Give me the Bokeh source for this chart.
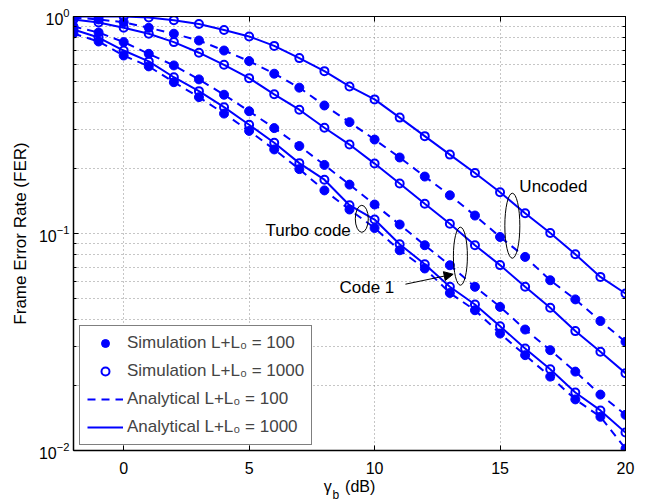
from bokeh.plotting import figure
from bokeh.models import (FixedTicker, LinearAxis, LogAxis, Label, Legend, LegendItem,
                          Arrow, NormalHead, Range1d, CustomJSTickFormatter)
from bokeh.embed import file_html
from bokeh.resources import INLINE

# ---------------- data ----------------
snr_db = list(range(-2, 21))

fer_uncoded_1000 = [1.0, 1.0, 1.0, 0.99, 0.962, 0.924, 0.867, 0.809, 0.732, 0.643, 0.560,
                    0.476, 0.415, 0.342, 0.281, 0.231, 0.190, 0.155, 0.124, 0.1006,
                    0.0802, 0.0631, 0.0529]
fer_uncoded_100 = [0.989, 0.969, 0.941, 0.887, 0.833, 0.775, 0.697, 0.623, 0.545, 0.470,
                   0.389, 0.326, 0.271, 0.224, 0.183, 0.150, 0.121, 0.0964, 0.078,
                   0.0609, 0.0497, 0.0395, 0.0317]
fer_code1_1000 = [0.969, 0.938, 0.887, 0.833, 0.762, 0.681, 0.599, 0.520, 0.438, 0.372,
                  0.307, 0.257, 0.210, 0.170, 0.137, 0.111, 0.0883, 0.0715, 0.0568,
                  0.0455, 0.0355, 0.0285, 0.0227]
fer_code1_100 = [0.899, 0.844, 0.762, 0.673, 0.595, 0.513, 0.436, 0.366, 0.306, 0.253,
                 0.207, 0.168, 0.136, 0.110, 0.0883, 0.0714, 0.0568, 0.0459, 0.0361,
                 0.0290, 0.0231, 0.0181, 0.0146]
fer_turbo_1000 = [0.871, 0.800, 0.697, 0.621, 0.525, 0.453, 0.382, 0.317, 0.262, 0.211,
                  0.177, 0.135, 0.116, 0.0892, 0.0722, 0.0568, 0.0471, 0.0374, 0.0295,
                  0.0237, 0.0185, 0.0153, 0.0121]
fer_turbo_100 = [0.835, 0.767, 0.661, 0.589, 0.498, 0.425, 0.357, 0.297, 0.244, 0.198,
                 0.158, 0.129, 0.106, 0.0837, 0.069, 0.0532, 0.0443, 0.0346, 0.0275,
                 0.0219, 0.0172, 0.0143, 0.0102]

series_1000 = [fer_uncoded_1000, fer_code1_1000, fer_turbo_1000]
series_100 = [fer_uncoded_100, fer_code1_100, fer_turbo_100]

x_ticks = [0, 5, 10, 15, 20]
x_grid = [0, 5, 10, 15]
y_major = [0.01, 0.1, 1.0]
y_minor = [0.02, 0.03, 0.04, 0.05, 0.06, 0.07, 0.08, 0.09,
           0.2, 0.3, 0.4, 0.5, 0.6, 0.7, 0.8, 0.9]

legend_labels = ["Simulation L+L₀ = 100", "Simulation L+L₀ = 1000",
                 "Analytical L+L₀ = 100", "Analytical L+L₀ = 1000"]

FONT = "Liberation Sans"
FS = "17px"
BLUE = "#0000ff"
GRID = "#8c8c8c"

p = figure(width=645, height=500, x_range=Range1d(-2, 20), y_range=Range1d(0.01, 1.0),
           y_axis_type="log", output_backend="svg", toolbar_location=None,
           min_border_left=73, min_border_right=20, min_border_top=16, min_border_bottom=50)
p.outline_line_color = "black"
p.outline_line_width = 1
p.background_fill_color = "white"
p.border_fill_color = "white"

xt = FixedTicker(ticks=x_ticks)
yt = FixedTicker(ticks=y_major, minor_ticks=y_minor)
blank = CustomJSTickFormatter(code="return ''")

# bottom axis (label "γ_b (dB)": subscript b added separately below)
xa = p.xaxis[0]
xa.ticker = xt
xa.major_tick_in = 5
xa.major_tick_out = 0
xa.minor_tick_in = 0
xa.minor_tick_out = 0
xa.major_label_text_font = FONT
xa.major_label_text_font_size = "16px"
xa.major_label_text_color = "black"
xa.major_label_standoff = 11
xa.axis_line_color = "black"
xa.axis_line_width = 1.5
xa.major_tick_line_color = "black"
xa.axis_label = "γ\u00a0\u00a0\u00a0(dB)"
xa.axis_label_text_font = FONT
xa.axis_label_text_font_size = "16px"
xa.axis_label_text_font_style = "normal"
xa.axis_label_text_color = "black"
xa.axis_label_standoff = 1

# left axis: native 10^n labels
ya = p.yaxis[0]
ya.ticker = yt
ya.major_tick_in = 5
ya.major_tick_out = 0
ya.minor_tick_in = 3
ya.minor_tick_out = 0
ya.major_label_text_font = FONT
ya.major_label_text_font_size = "16px"
ya.major_label_text_color = "black"
ya.major_label_standoff = 4
ya.axis_line_color = "black"
ya.axis_line_width = 1.5
ya.major_tick_line_color = "black"
ya.minor_tick_line_color = "black"
ya.axis_label = "Frame Error Rate (FER)"
ya.axis_label_text_font = FONT
ya.axis_label_text_font_size = FS
ya.axis_label_text_font_style = "normal"
ya.axis_label_text_color = "black"
ya.axis_label_standoff = 6

# top / right axes for the box ticks
top = LinearAxis(ticker=xt, formatter=blank, major_tick_in=5,
                 major_tick_out=0, minor_tick_in=0, minor_tick_out=0,
                 axis_line_color="black")
p.add_layout(top, "above")
right = LogAxis(ticker=yt, formatter=blank, major_tick_in=5,
                major_tick_out=0, minor_tick_in=3, minor_tick_out=0,
                axis_line_color="black")
p.add_layout(right, "right")

# grids
p.xgrid.ticker = FixedTicker(ticks=x_grid)
p.xgrid.grid_line_color = GRID
p.xgrid.grid_line_dash = "1 3"
p.ygrid.ticker = yt
p.ygrid.grid_line_color = GRID
p.ygrid.grid_line_dash = "1 3"
p.ygrid.minor_grid_line_color = GRID
p.ygrid.minor_grid_line_dash = "1 3"

# curves
legend_renderers = []
for i, (s1000, s100) in enumerate(zip(series_1000, series_100)):
    ln100 = p.line(snr_db, s100, line_color=BLUE, line_width=2, line_dash="8 6")
    ln1000 = p.line(snr_db, s1000, line_color=BLUE, line_width=2)
    sc100 = p.scatter(snr_db, s100, marker="circle", size=9, fill_color=BLUE,
                      line_color=BLUE, line_width=1)
    sc1000 = p.scatter(snr_db, s1000, marker="circle", size=8, fill_color=None,
                       line_color=BLUE, line_width=2)
    if i == 0:
        legend_renderers = [sc100, sc1000, ln100, ln1000]

legend = Legend(items=[LegendItem(label=lab, renderers=[r])
                       for lab, r in zip(legend_labels, legend_renderers)],
                location=(6, 5), margin=0, padding=7, spacing=8,
                label_text_font=FONT, label_text_font_size=FS,
                label_height=20, glyph_height=20, glyph_width=36, label_standoff=4,
                border_line_color="black", border_line_width=1,
                background_fill_color="white", background_fill_alpha=1.0)
p.add_layout(legend)

# annotations: ellipses, texts, arrow
p.ellipse(x=[15.49], y=[0.1086], width=15, height=65, width_units="screen",
          height_units="screen", fill_color=None, line_color="black", line_width=1)
p.ellipse(x=[9.49], y=[0.1169], width=13, height=27, width_units="screen",
          height_units="screen", fill_color=None, line_color="black", line_width=1)
p.ellipse(x=[13.42], y=[0.0786], width=14, height=58, width_units="screen",
          height_units="screen", fill_color=None, line_color="black", line_width=1)

for txt, tx, ty in [("Uncoded", 15.77, 0.165), ("Turbo code", 5.65, 0.1035),
                    ("Code 1", 8.60, 0.0566)]:
    p.add_layout(Label(x=tx, y=ty, text=txt, text_font=FONT, text_font_size=FS,
                       text_align="left", text_baseline="middle", text_color="black"))

p.add_layout(Arrow(end=NormalHead(size=9, fill_color="black", line_color="black"),
                   x_start=11.23, y_start=0.0584, x_end=13.13, y_end=0.0649,
                   line_color="black", line_width=1))

# subscript "b" of the x-axis title, in its own (narrow) side panel
p.add_layout(Label(x=332, y=-44, x_units="screen", y_units="screen", text="b",
                   text_font=FONT, text_font_size="12px", text_align="left",
                   text_baseline="alphabetic", text_color="black"), "left")

open("out.html", "w").write(file_html(p, INLINE))
